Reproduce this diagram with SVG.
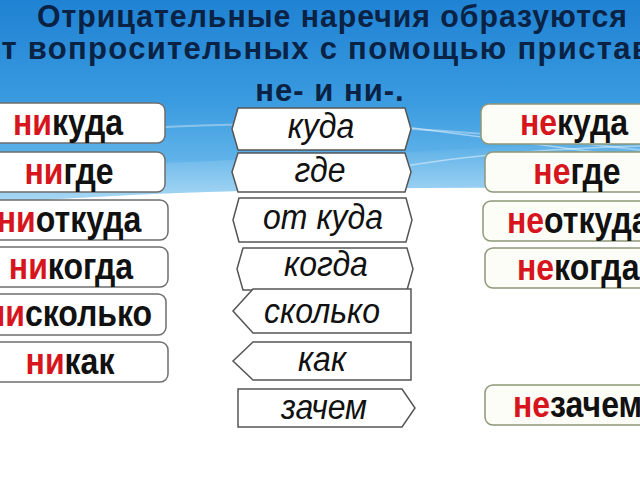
<svg xmlns="http://www.w3.org/2000/svg" width="640" height="480" viewBox="0 0 640 480">
  <defs>
    <linearGradient id="sky" x1="0" y1="0" x2="0" y2="1">
      <stop offset="0" stop-color="#1f82d3"/>
      <stop offset="0.5" stop-color="#3a9be0"/>
      <stop offset="1" stop-color="#7cc4ef"/>
    </linearGradient>
    <linearGradient id="fade" x1="0" y1="0" x2="0" y2="1">
      <stop offset="0" stop-color="#ffffff" stop-opacity="0"/>
      <stop offset="1" stop-color="#ffffff" stop-opacity="0.35"/>
    </linearGradient>
    <style>
      .title { font-family: "Liberation Sans", Arial, sans-serif; font-weight: bold; font-size: 31px; fill: #0a2244; letter-spacing: 1px; }
      .side { fill: #ffffff; stroke: #6e6e6e; stroke-width: 1.5; }
      .rside { fill: #fdfdf8; stroke: #8c9878; stroke-width: 1.5; }
      .word { font-family: "Liberation Sans", Arial, sans-serif; font-weight: bold; font-size: 32px; fill: #111111; text-anchor: middle; }
      .pre { fill: #d6151d; }
      .tag { fill: #ffffff; stroke: #555555; stroke-width: 1.5; stroke-linejoin: miter; }
      .q { font-family: "Liberation Sans", Arial, sans-serif; font-style: italic; font-size: 32px; fill: #111111; text-anchor: middle; }
    </style>
  </defs>

  <!-- background -->
  <rect x="0" y="0" width="640" height="480" fill="#ffffff"/>
  <path d="M0,0 H640 V189 C420,186 200,188 0,203 Z" fill="url(#sky)"/>
  <path d="M0,203 C200,188 420,186 640,189 V140 C450,150 250,160 0,170 Z" fill="url(#fade)"/>
  <path d="M150,128 C300,118 480,130 640,150" fill="none" stroke="#ffffff" stroke-opacity="0.35" stroke-width="2"/>
  <path d="M405,127 L640,158" fill="none" stroke="#ffffff" stroke-opacity="0.45" stroke-width="1.5"/>
  <path d="M405,166 C470,155 560,148 640,146" fill="none" stroke="#ffffff" stroke-opacity="0.45" stroke-width="1.5"/>

  <!-- title -->
  <g id="title">
    <text class="title" x="37" y="27" textLength="591" lengthAdjust="spacingAndGlyphs">Отрицательные наречия образуются</text>
    <text class="title" x="-18" y="59" style="letter-spacing:1.3px">от вопросительных с помощью приставок</text>
    <text class="title" x="330" y="101" text-anchor="middle">не- и ни-.</text>
  </g>

  <!-- connectors (none) -->
  <g id="connectors"></g>

  <!-- left column -->
  <g id="n-nikuda">
    <rect class="side" x="-20" y="103" width="185" height="40" rx="8"/>
    <text class="word" transform="translate(68,135) scale(1,1.14)"><tspan class="pre">ни</tspan>куда</text>
  </g>
  <g id="n-nigde">
    <rect class="side" x="-20" y="152" width="185" height="40" rx="8"/>
    <text class="word" transform="translate(69,184) scale(1,1.14)"><tspan class="pre">ни</tspan>где</text>
  </g>
  <g id="n-niotkuda">
    <rect class="side" x="-20" y="200" width="188" height="40" rx="8"/>
    <text class="word" transform="translate(69,232) scale(1,1.14)"><tspan class="pre">ни</tspan>откуда</text>
  </g>
  <g id="n-nikogda">
    <rect class="side" x="-20" y="247" width="188" height="40" rx="8"/>
    <text class="word" transform="translate(71,279) scale(1,1.14)"><tspan class="pre">ни</tspan>когда</text>
  </g>
  <g id="n-niskolko">
    <rect class="side" x="-20" y="294" width="186" height="41" rx="8"/>
    <text class="word" transform="translate(69,326) scale(1,1.14)"><tspan class="pre">ни</tspan>сколько</text>
  </g>
  <g id="n-nikak">
    <rect class="side" x="-20" y="342" width="188" height="40" rx="8"/>
    <text class="word" transform="translate(70,374) scale(1,1.14)"><tspan class="pre">ни</tspan>как</text>
  </g>

  <!-- middle column -->
  <g id="q-kuda">
    <polygon class="tag" points="232,129 238,108 405,108 411,129 405,150 238,150"/>
    <text class="q" transform="translate(321,138) scale(1,1.1)">куда</text>
  </g>
  <g id="q-gde">
    <polygon class="tag" points="232,172 238,153 405,153 411,172 405,192 238,192"/>
    <text class="q" transform="translate(320,182) scale(1,1.1)">где</text>
  </g>
  <g id="q-otkuda">
    <polygon class="tag" points="233,220 239,198 406,198 412,220 406,242 239,242"/>
    <text class="q" transform="translate(323,229) scale(1,1.1)">от куда</text>
  </g>
  <g id="q-kogda">
    <polygon class="tag" points="237,269 243,248 407,248 413,269 407,290 243,290"/>
    <text class="q" transform="translate(326,276) scale(1,1.1)">когда</text>
  </g>
  <g id="q-skolko">
    <polygon class="tag" points="233,311 253,289 411,289 411,333 253,333"/>
    <text class="q" transform="translate(322,323) scale(1,1.1)">сколько</text>
  </g>
  <g id="q-kak">
    <polygon class="tag" points="233,361 253,342 411,342 411,380 253,380"/>
    <text class="q" transform="translate(322,371) scale(1,1.1)">как</text>
  </g>
  <g id="q-zachem">
    <polygon class="tag" points="238,389 402,389 415,408 402,427 238,427"/>
    <text class="q" transform="translate(324,419) scale(1,1.1)">зачем</text>
  </g>

  <!-- right column -->
  <g id="n-nekuda">
    <rect class="rside" x="481" y="104" width="200" height="40" rx="8"/>
    <text class="word" transform="translate(574,135) scale(1,1.14)"><tspan class="pre">не</tspan>куда</text>
  </g>
  <g id="n-negde">
    <rect class="rside" x="485" y="152" width="200" height="40" rx="8"/>
    <text class="word" transform="translate(577,184) scale(1,1.14)"><tspan class="pre">не</tspan>где</text>
  </g>
  <g id="n-neotkuda">
    <rect class="rside" x="483" y="201" width="200" height="40" rx="8"/>
    <text class="word" style="text-anchor:start" transform="translate(507,233) scale(1,1.14)"><tspan class="pre">не</tspan>откуда</text>
  </g>
  <g id="n-nekogda">
    <rect class="rside" x="485" y="248" width="200" height="40" rx="8"/>
    <text class="word" style="text-anchor:start" transform="translate(517,280) scale(1,1.14)"><tspan class="pre">не</tspan>когда</text>
  </g>
  <g id="n-nezachem">
    <rect class="rside" x="485" y="385" width="200" height="40" rx="8"/>
    <text class="word" style="text-anchor:start" transform="translate(513,417) scale(1,1.14)"><tspan class="pre">не</tspan>зачем</text>
  </g>
</svg>
